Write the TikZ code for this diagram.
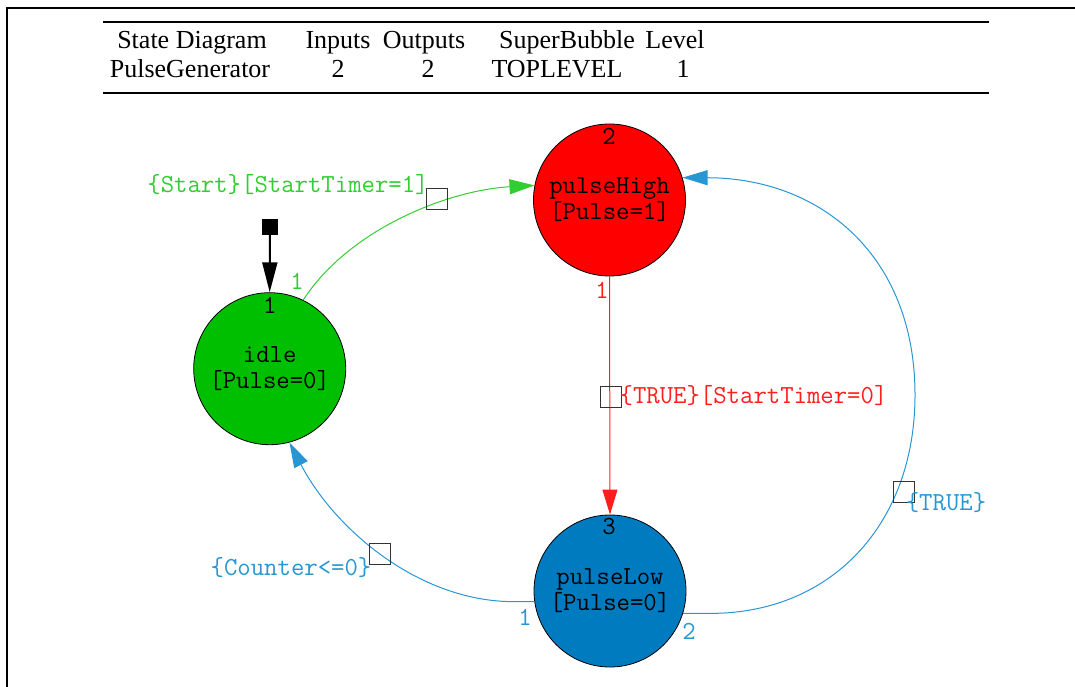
\documentclass[tikz,border=0pt]{standalone}
\usepackage{fontspec}
\setmainfont{Liberation Serif}
\usetikzlibrary{arrows.meta}
\definecolor{idlegreen}{RGB}{0,190,0}
\definecolor{highred}{RGB}{255,0,0}
\definecolor{lowblue}{RGB}{0,123,192}
\definecolor{lgreen}{RGB}{50,205,50}
\definecolor{lred}{RGB}{255,30,30}
\definecolor{lblue}{RGB}{40,150,210}
\newcommand\mylblfont{\fontsize{26}{26}\selectfont\ttfamily}
\newcommand\myhdrfont{\fontsize{26}{26}\selectfont}
\begin{document}
\begin{tikzpicture}[x=1pt,y=-1pt,
  state/.style={circle,draw=black,line width=0.8pt,minimum size=152pt,inner sep=0pt,align=center,font=\mylblfont},
  tbox/.style={draw=black!80,line width=1pt,minimum size=21pt,inner sep=0pt},
  lbl/.style={inner sep=0pt,font=\mylblfont},
  hdr/.style={inner sep=0pt,anchor=base,font=\myhdrfont},
  conn/.style={line width=1pt},
  tip/.style={-{Triangle[length=25pt,width=15pt]}}]
\useasboundingbox (0,0) rectangle (1075,687);
% outer frame
\draw[line width=2.5pt] (7,700) -- (7,8) -- (1090,8);
% header
\draw[line width=1.5pt] (103,22) -- (989,22);
\draw[line width=2.5pt] (103,93) -- (989,93);
\node[hdr] (h1) at (192,49) {State Diagram};
\node[hdr] (h2) at (338,49) {Inputs};
\node[hdr] (h3) at (424,49) {Outputs};
\node[hdr] (h4) at (567,49) {SuperBubble};
\node[hdr] (h5) at (675,49) {Level};
\node[hdr] (v1) at (190,78) {PulseGenerator};
\node[hdr] (v2) at (338,78) {2};
\node[hdr] (v3) at (428,78) {2};
\node[hdr] (v4) at (557,78) {TOPLEVEL};
\node[hdr] (v5) at (683,78) {1};
% states
\node[state,fill=highred] (high) at (609.5,200) {pulseHigh\\{[Pulse=1]}};
\node[state,fill=idlegreen] (idle) at (269.7,368.7) {idle\\{[Pulse=0]}};
\node[state,fill=lowblue] (low) at (610,591) {pulseLow\\{[Pulse=0]}};
\node[lbl] (n2) at (609,136) {2};
\node[lbl] (n1) at (269.7,305) {1};
\node[lbl] (n3) at (609,527) {3};
% initial marker
\node[fill=black,minimum size=16pt,inner sep=0pt] (init) at (270,226.5) {};
\draw[line width=2pt,-{Triangle[length=30pt,width=15pt]}] (init) -- (idle.north);
% transitions
\draw[conn,lgreen,tip] (idle.64) .. controls (350,228) and (450,190) .. (high.169);
\draw[conn,lred,tip] (high.south) -- (low.north);
\draw[conn,lblue,tip] (low.-17) -- ++(22,0) .. controls (830,616) and (915,525) .. (915,395)
   .. controls (915,255) and (820,178) .. (high.17);
\draw[conn,lblue,tip] (low.188) -- ++(-20,0) .. controls (420,602) and (335,530) .. (idle.-75);
% transition boxes
\node[tbox] (bg) at (437,199) {};
\node[tbox] (br) at (610.5,396.5) {};
\node[tbox] (bb1) at (903.5,492) {};
\node[tbox] (bb2) at (380,554) {};
% labels
\node[lbl,text=lgreen] (lg) at (288,185) {\{Start\}[StartTimer=1]};
\node[lbl,text=lred] (lr) at (753.5,396) {\{TRUE\}[StartTimer=0]};
\node[lbl,text=lblue] (lb1) at (946,503) {\{TRUE\}};
\node[lbl,text=lblue] (lb2) at (291,568) {\{Counter<=0\}};
\node[lbl,text=lgreen] (pg) at (297,281) {1};
\node[lbl,text=lred] (pr) at (602,290) {1};
\node[lbl,text=lblue] (pb1) at (525,617) {1};
\node[lbl,text=lblue] (pb2) at (689,631) {2};
\end{tikzpicture}
\end{document}
